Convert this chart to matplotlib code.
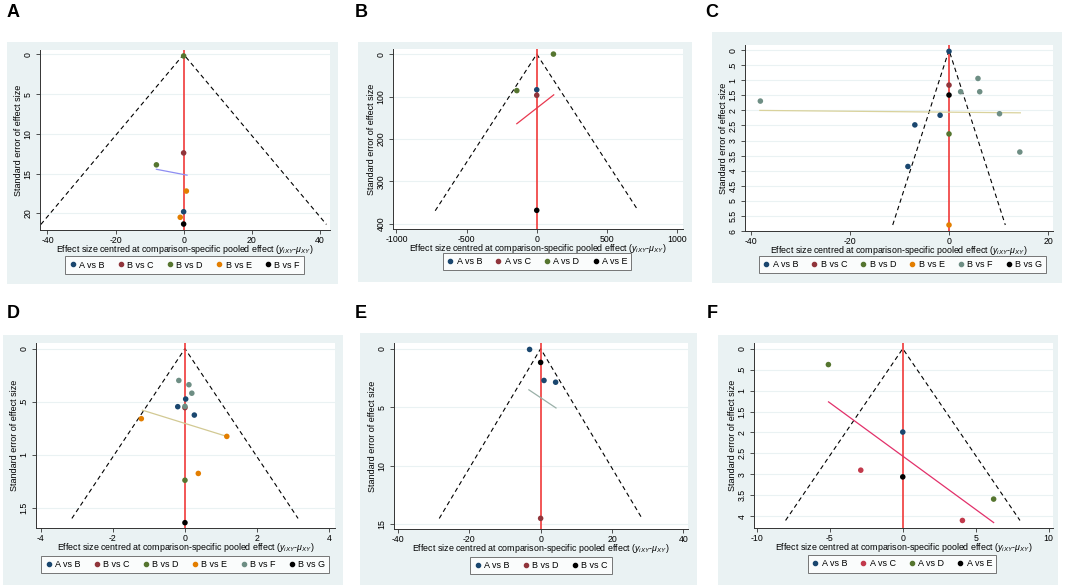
import matplotlib
matplotlib.use("Agg")
import matplotlib.pyplot as plt
from matplotlib.patches import Rectangle
from matplotlib.lines import Line2D

plt.rcParams['font.family'] = ['Liberation Sans', 'DejaVu Sans']
plt.rcParams['mathtext.fontset'] = 'custom'
plt.rcParams['mathtext.rm'] = 'Liberation Sans'
plt.rcParams['mathtext.it'] = 'Liberation Sans:italic'

W, H = 1065, 587

# ---- data ----
# panel A
a_labels = ["A vs B", "B vs C", "B vs D", "B vs E", "B vs F"]
a_x = [[0.0], [0.0], [0.0, -8.0], [0.8, -1.0], [0.0]]
a_se = [[19.8], [12.4], [0.2, 13.9], [17.2, 20.5], [21.35]]
a_egger_x = [-8.0, 1.0]
a_egger_se = [14.46, 15.2]
a_funnel_se = 21.4
a_xticks = [-40, -20, 0, 20, 40]
a_yticks = [0, 5, 10, 15, 20]
a_yticklabels = ["0", "5", "10", "15", "20"]

# panel B
b_labels = ["A vs B", "A vs C", "A vs D", "A vs E"]
b_x = [[0.0], [0.0], [119.0, -142.0], [0.0]]
b_se = [[84.0], [97.0], [0.0, 86.0], [368.0]]
b_egger_x = [-142.0, 121.0]
b_egger_se = [164.0, 96.0]
b_funnel_se = 369.0
b_xticks = [-1000, -500, 0, 500, 1000]
b_yticks = [0, 100, 200, 300, 400]
b_yticklabels = ["0", "100", "200", "300", "400"]

# panel C
c_labels = ["A vs B", "B vs C", "B vs D", "B vs E", "B vs F", "B vs G"]
c_x = [[0.0, -1.8, -6.9, -8.3], [0.0], [0.0], [0.0],
       [5.85, 2.35, 6.2, -38.1, 10.2, 14.3], [0.0]]
c_se = [[0.04, 2.16, 2.48, 3.86], [1.16], [2.78], [5.8],
        [0.94, 1.38, 1.38, 1.69, 2.11, 3.38], [1.49]]
c_egger_x = [-38.2, 14.4]
c_egger_se = [2.0, 2.08]
c_funnel_se = 5.8
c_xticks = [-40, -20, 0, 20]
c_yticks = [0, 0.5, 1, 1.5, 2, 2.5, 3, 3.5, 4, 4.5, 5, 5.5, 6]
c_yticklabels = ["0", ".5", "1", "1.5", "2", "2.5", "3", "3.5", "4", "4.5", "5", "5.5", "6"]

# panel D
d_labels = ["A vs B", "B vs C", "B vs D", "B vs E", "B vs F", "B vs G"]
d_x = [[0.02, -0.2, 0.26], [0.0], [0.0], [-1.21, 1.16, 0.37],
       [-0.17, 0.11, 0.19, 0.0], [0.0]]
d_se = [[0.475, 0.547, 0.626], [0.556], [1.24], [0.66, 0.827, 1.176],
        [0.30, 0.34, 0.42, 0.544], [1.64]]
d_egger_x = [-1.18, 1.16]
d_egger_se = [0.58, 0.827]
d_funnel_se = 1.60
d_xticks = [-4, -2, 0, 2, 4]
d_yticks = [0, 0.5, 1, 1.5]
d_yticklabels = ["0", ".5", "1", "1.5"]

# panel E
e_labels = ["A vs B", "B vs D", "B vs C"]
e_x = [[-3.1, 0.94, 4.2], [0.0], [0.0]]
e_se = [[0.06, 2.71, 2.86], [14.49], [1.17]]
e_egger_x = [-3.3, 4.3]
e_egger_se = [3.51, 5.06]
e_funnel_se = 14.5
e_xticks = [-40, -20, 0, 20, 40]
e_yticks = [0, 5, 10, 15]
e_yticklabels = ["0", "5", "10", "15"]

# panel F
f_labels = ["A vs B", "A vs C", "A vs D", "A vs E"]
f_x = [[0.0], [-2.88, 4.09], [-5.1, 6.23], [0.0]]
f_se = [[1.99], [2.9, 4.1], [0.38, 3.59], [3.06]]
f_egger_x = [-5.09, 6.23]
f_egger_se = [1.27, 4.15]
f_funnel_se = 4.1
f_xticks = [-10, -5, 0, 5, 10]
f_yticks = [0, 0.5, 1, 1.5, 2, 2.5, 3, 3.5, 4]
f_yticklabels = ["0", ".5", "1", "1.5", "2", "2.5", "3", "3.5", "4"]

# ---- styling ----
NAVY = '#1a476f'
MAROON = '#90353b'
GREEN = '#55752f'
ORANGE = '#e37e00'
TEAL = '#6e8e84'
BLACK = '#000000'
BG = '#eaf2f3'

panels = [
    dict(letter="A", labels=a_labels, x=a_x, se=a_se, ex=a_egger_x, ese=a_egger_se,
         fse=a_funnel_se, xt=a_xticks, yt=a_yticks, ytl=a_yticklabels,
         xlim=(-42.2, 43.0), ylim=(22.1, -0.55),
         colors=[NAVY, MAROON, GREEN, ORANGE, BLACK], ecol='#8e8ef2',
         bg=(7, 42, 338, 284), ax=(40, 50, 330, 230), leg=(67, 257, 302, 273), lt=(7, 4)),
    dict(letter="B", labels=b_labels, x=b_x, se=b_se, ex=b_egger_x, ese=b_egger_se,
         fse=b_funnel_se, xt=b_xticks, yt=b_yticks, ytl=b_yticklabels,
         xlim=(-1024, 1042), ylim=(412, -12),
         colors=[NAVY, MAROON, GREEN, BLACK], ecol='#e8384f',
         bg=(358, 42, 692, 282), ax=(393, 49, 683, 229), leg=(442, 252, 632, 271), lt=(355, 4)),
    dict(letter="C", labels=c_labels, x=c_x, se=c_se, ex=c_egger_x, ese=c_egger_se,
         fse=c_funnel_se, xt=c_xticks, yt=c_yticks, ytl=c_yticklabels,
         xlim=(-41.2, 21.0), ylim=(6.0, -0.17),
         colors=[NAVY, MAROON, GREEN, ORANGE, TEAL, BLACK], ecol='#d9d29c',
         bg=(712, 32, 1062, 283), ax=(745, 45, 1053, 231), leg=(757, 255, 1048, 274), lt=(705, 4)),
    dict(letter="D", labels=d_labels, x=d_x, se=d_se, ex=d_egger_x, ese=d_egger_se,
         fse=d_funnel_se, xt=d_xticks, yt=d_yticks, ytl=d_yticklabels,
         xlim=(-4.13, 4.16), ylim=(1.69, -0.053),
         colors=[NAVY, MAROON, GREEN, ORANGE, TEAL, BLACK], ecol='#d2c993',
         bg=(3, 335, 343, 585), ax=(36, 343, 335, 528), leg=(45, 555, 325, 574), lt=(7, 305)),
    dict(letter="E", labels=e_labels, x=e_x, se=e_se, ex=e_egger_x, ese=e_egger_se,
         fse=e_funnel_se, xt=e_xticks, yt=e_yticks, ytl=e_yticklabels,
         xlim=(-41.1, 41.3), ylim=(15.4, -0.49),
         colors=[NAVY, MAROON, BLACK], ecol='#9ab0a8',
         bg=(360, 333, 697, 585), ax=(394, 343, 688, 529), leg=(468, 557, 614, 574), lt=(355, 305)),
    dict(letter="F", labels=f_labels, x=f_x, se=f_se, ex=f_egger_x, ese=f_egger_se,
         fse=f_funnel_se, xt=f_xticks, yt=f_yticks, ytl=f_yticklabels,
         xlim=(-10.2, 10.3), ylim=(4.28, -0.135),
         colors=[NAVY, '#c23a4c', GREEN, BLACK], ecol='#e2306a',
         bg=(718, 335, 1058, 585), ax=(754, 343, 1053, 528), leg=(804, 555, 1000, 573), lt=(707, 305)),
]

fig = plt.figure(figsize=(W / 100, H / 100), dpi=100)
fig.patch.set_facecolor('white')


def frac(box):
    x0, y0, x1, y1 = box
    return [x0 / W, 1 - y1 / H, (x1 - x0) / W, (y1 - y0) / H]


for p in panels:
    l, b, w, h = frac(p['bg'])
    fig.patches.append(Rectangle((l, b), w, h, transform=fig.transFigure,
                                 facecolor=BG, edgecolor='none', zorder=-5))
    fig.text(p['lt'][0] / W, 1 - p['lt'][1] / H, p['letter'], fontsize=13,
             fontweight='bold', ha='left', va='top')

    ax = fig.add_axes(frac(p['ax']))
    ax.set_zorder(1)
    ax.set_facecolor('white')
    ax.set_xlim(*p['xlim'])
    ax.set_ylim(*p['ylim'])

    for yv in p['yt']:
        ax.axhline(yv, color=BG, lw=0.8, zorder=0)

    # funnel (95% pseudo confidence limits)
    fx = 1.96 * p['fse']
    ax.plot([-fx, 0, fx], [p['fse'], 0, p['fse']], color='black', lw=0.8,
            ls=(0, (4, 3)), zorder=2)
    ax.axvline(0, color='#f03a3a', lw=1.2, zorder=2)
    ax.plot(p['ex'], p['ese'], color=p['ecol'], lw=0.9, zorder=2)

    handles = []
    for lab, xs, ses, col in zip(p['labels'], p['x'], p['se'], p['colors']):
        ax.scatter(xs, ses, s=16, color=col, edgecolors='none', zorder=3)
        handles.append(Line2D([], [], ls='none', marker='o', markersize=3,
                              color=col, label=lab))

    ax.set_xticks(p['xt'])
    ax.set_xticklabels([str(t) for t in p['xt']])
    ax.set_yticks(p['yt'])
    ax.set_yticklabels(p['ytl'], rotation=90, va='center')
    ax.tick_params(labelsize=6.3, length=3, width=0.6, color='#333333')
    ax.tick_params(axis='x', pad=1.0)
    ax.tick_params(axis='y', pad=2.5)
    for s in ['top', 'right']:
        ax.spines[s].set_visible(False)
    for s in ['left', 'bottom']:
        ax.spines[s].set_linewidth(0.7)
        ax.spines[s].set_color('#333333')
    ax.set_ylabel("Standard error of effect size", fontsize=6.5, labelpad=0.5)
    ax.set_xlabel(r"Effect size centred at comparison-specific pooled effect ($y_{iXY}$-$\mu_{XY}$)",
                  fontsize=6.4, labelpad=-1)

    x0, y0, x1, y1 = p['leg']
    leg = fig.legend(handles=handles, loc='center',
                     bbox_to_anchor=((x0 + x1) / 2 / W, 1 - (y0 + y1) / 2 / H),
                     ncol=len(handles), fontsize=6.5, frameon=True, fancybox=False,
                     handlelength=0.8, handletextpad=0.3, columnspacing=1.4,
                     borderpad=0.45, borderaxespad=0)
    leg.get_frame().set_edgecolor('#555555')
    leg.get_frame().set_linewidth(0.7)
    leg.set_zorder(2)

fig.savefig("out.png", dpi=100)
